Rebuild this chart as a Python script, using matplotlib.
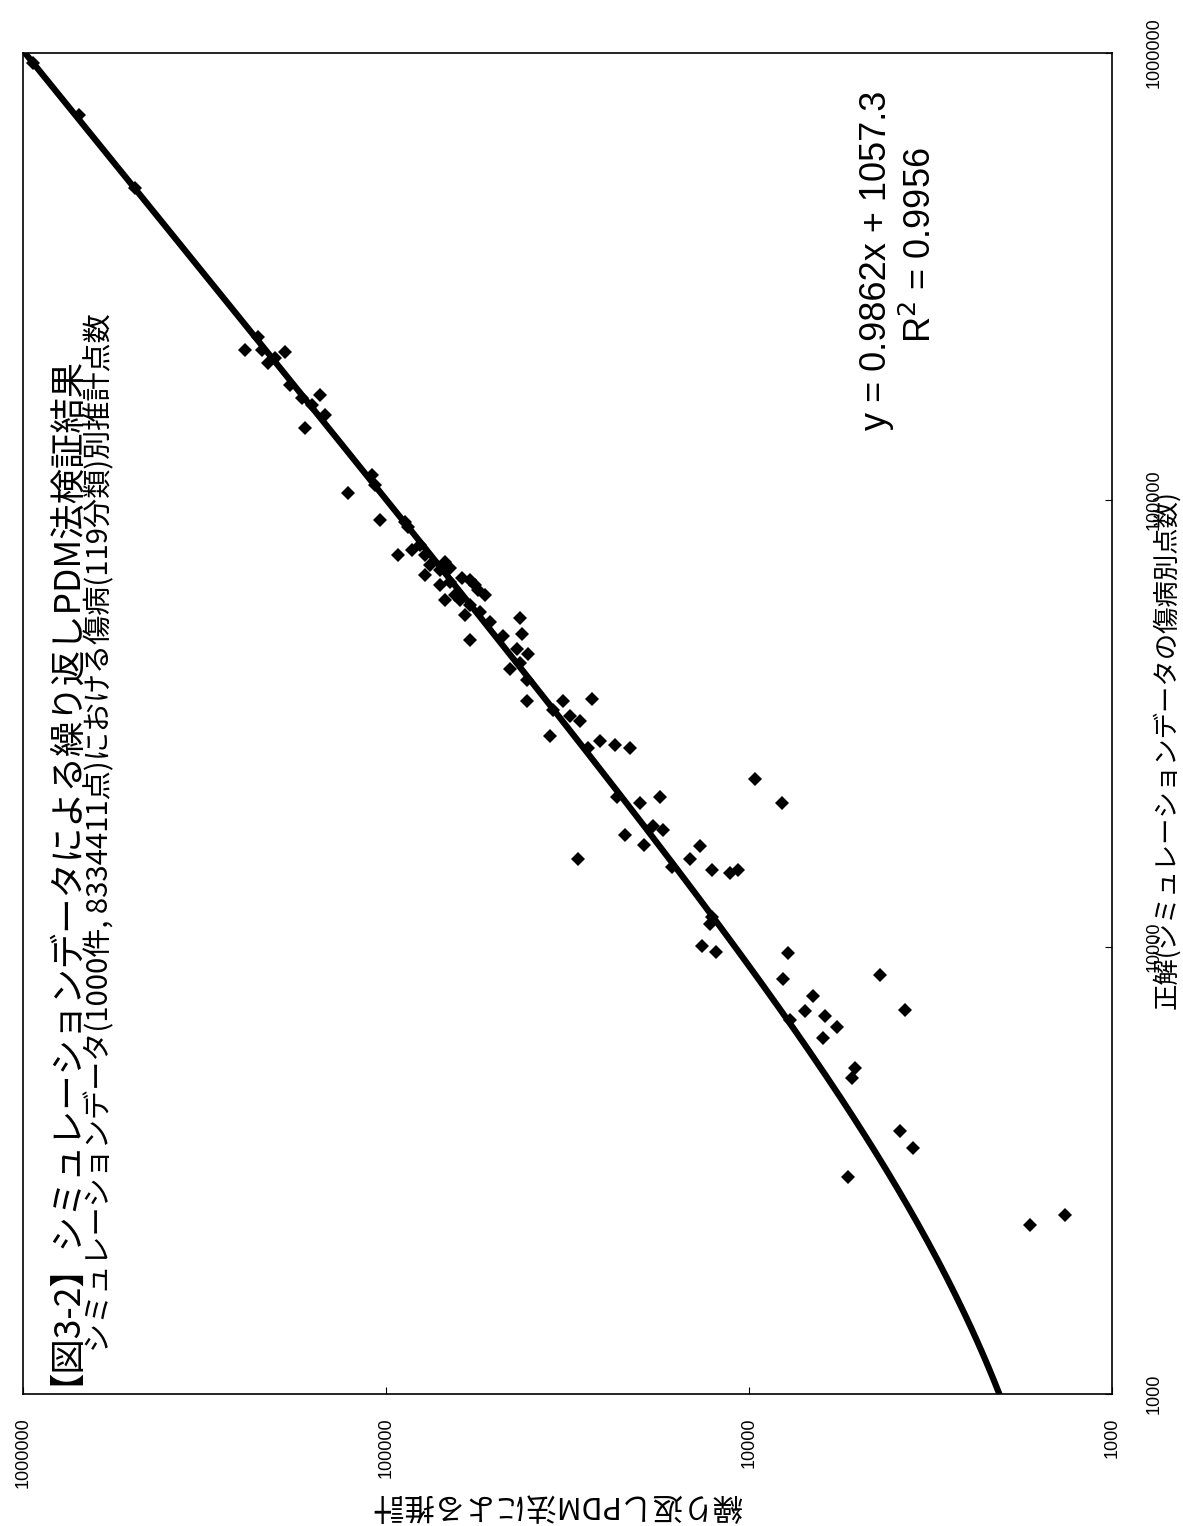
import numpy as np
import matplotlib.pyplot as plt
from matplotlib.ticker import NullLocator

plt.rcParams['font.family'] = ['Noto Sans CJK JP', 'DejaVu Sans']

# chart drawn rotated: horizontal axis = estimate (inverted), vertical axis = true value
true_pts = [950000, 727000, 499000,
            231500, 216500, 216500, 207800, 214300, 202500, 180900, 169100, 163200,
            171800, 155000, 144900, 113700, 108000, 103700, 90200, 89300, 87000,
            75300, 77300, 79300, 75300, 71500, 69700, 72700, 70500, 68000, 65600,
            66900, 66200, 64500, 62900, 61300, 61300, 64500, 59800, 59800, 58200,
            55300, 56150, 53350, 48600, 54450, 50150, 49650, 46400, 45200, 43200,
            41900, 39570, 35510, 35510, 35880, 33910, 32870, 32030, 29650, 27870,
            28900, 28310, 27870, 23770, 21000, 21650, 21000, 21650, 18650, 18270,
            17810, 16910, 15740, 16830, 15740, 15100, 14870, 14640, 14870, 11670,
            11260, 10050, 9745, 9696, 8479, 8656, 7771, 7193, 7010, 6622, 6867,
            6258, 7230, 5362, 5093, 3877, 3550, 3059, 2388, 2514]
est_pts = [940000, 700000, 492000,
           225300, 244600, 219600, 202200, 189800, 211400, 183900, 170300, 159900,
           152000, 147200, 167200, 109300, 107200, 127300, 103900, 88700, 87000,
           92700, 84800, 80600, 78100, 75700, 71000, 68800, 66600, 78100, 66600,
           61700, 58700, 56900, 55800, 53400, 64600, 71000, 68800, 62500, 58700,
           60600, 55100, 51700, 58700, 42700, 42200, 47600, 43560, 40600, 42700,
           45550, 40900, 40900, 32550, 27070, 34670, 31130, 29220, 35340, 27770,
           25730, 23400, 21270, 9627, 8110, 23100, 19970, 17590, 18390, 17260,
           21960, 19470, 29590, 13650, 14540, 16300, 12650, 11280, 10720, 12650,
           12810, 13480, 12330, 7810, 8060, 4356, 6664, 7010, 6174, 5723, 7711,
           6253, 3717, 5105, 5203, 3837, 3534, 5336, 1682, 1347]

tick_vals = [1000, 10000, 100000, 1000000]
tick_text = ['1000', '10000', '100000', '1000000']

slope, intercept = 0.9862, 1057.3
r2 = 0.9956

title = '【図3-2】シミュレーションデータによる繰り返しPDM法検証結果'
subtitle = 'シミュレーションデータ(1000件, 8334411点)における傷病(119分類)別推計点数'
xlabel = '正解(シミュレーションデータの傷病別点数)'
ylabel = '繰り返しPDM法による推計'

W, H = 1183, 1526
fig = plt.figure(figsize=(W / 100, H / 100), dpi=100)
ax = fig.add_axes([23 / W, 132 / H, 1089 / W, 1341 / H])
ax.set_xscale('log')
ax.set_yscale('log')
ax.set_xlim(1e6, 1e3)
ax.set_ylim(1e3, 1e6)

# linear trend line y = slope*x + intercept (drawn on log axes)
t_line = np.geomspace(1000, 1e6, 300)
ax.plot(slope * t_line + intercept, t_line, color='black', lw=4.5, zorder=2)
ax.plot(est_pts, true_pts, ls='none', marker='D', ms=7, mew=0, color='black', zorder=3)

ax.xaxis.set_minor_locator(NullLocator())
ax.yaxis.set_minor_locator(NullLocator())
ax.yaxis.tick_right()
ax.set_xticks(tick_vals)
ax.set_xticklabels(tick_text, rotation=90, fontfamily='Liberation Sans', fontsize=13)
ax.set_yticks(tick_vals)
ax.set_yticklabels(tick_text, rotation=90, va='center', fontfamily='Liberation Sans', fontsize=13)
ax.tick_params(axis='x', direction='in', length=5, pad=17)
ax.tick_params(axis='y', direction='in', length=5, pad=24)
for s in ax.spines.values():
    s.set_linewidth(1.2)

fig.text(47 / W, 1 - 1385 / H, title, rotation=90, ha='center', va='bottom', fontsize=25.5)
fig.text(100 / W, 1 - 1352 / H, subtitle, rotation=90, ha='center', va='bottom', fontsize=21)
fig.text(1167 / W, 1 - 750 / H, xlabel, rotation=90, ha='center', va='center', fontsize=19)
fig.text(557 / W, 1 - 1505 / H, ylabel, rotation=180, ha='center', va='center', fontsize=22)

fig.text(877 / W, 1 - 260 / H, f'y = {slope}x + {intercept}', rotation=90,
         ha='center', va='center', fontsize=26, fontfamily='Liberation Sans')
fig.text(921 / W, 1 - 245 / H, f'R$^2$ = {r2}', rotation=90,
         ha='center', va='center', fontsize=26, fontfamily='Liberation Sans')

fig.savefig('out.png', dpi=100)
